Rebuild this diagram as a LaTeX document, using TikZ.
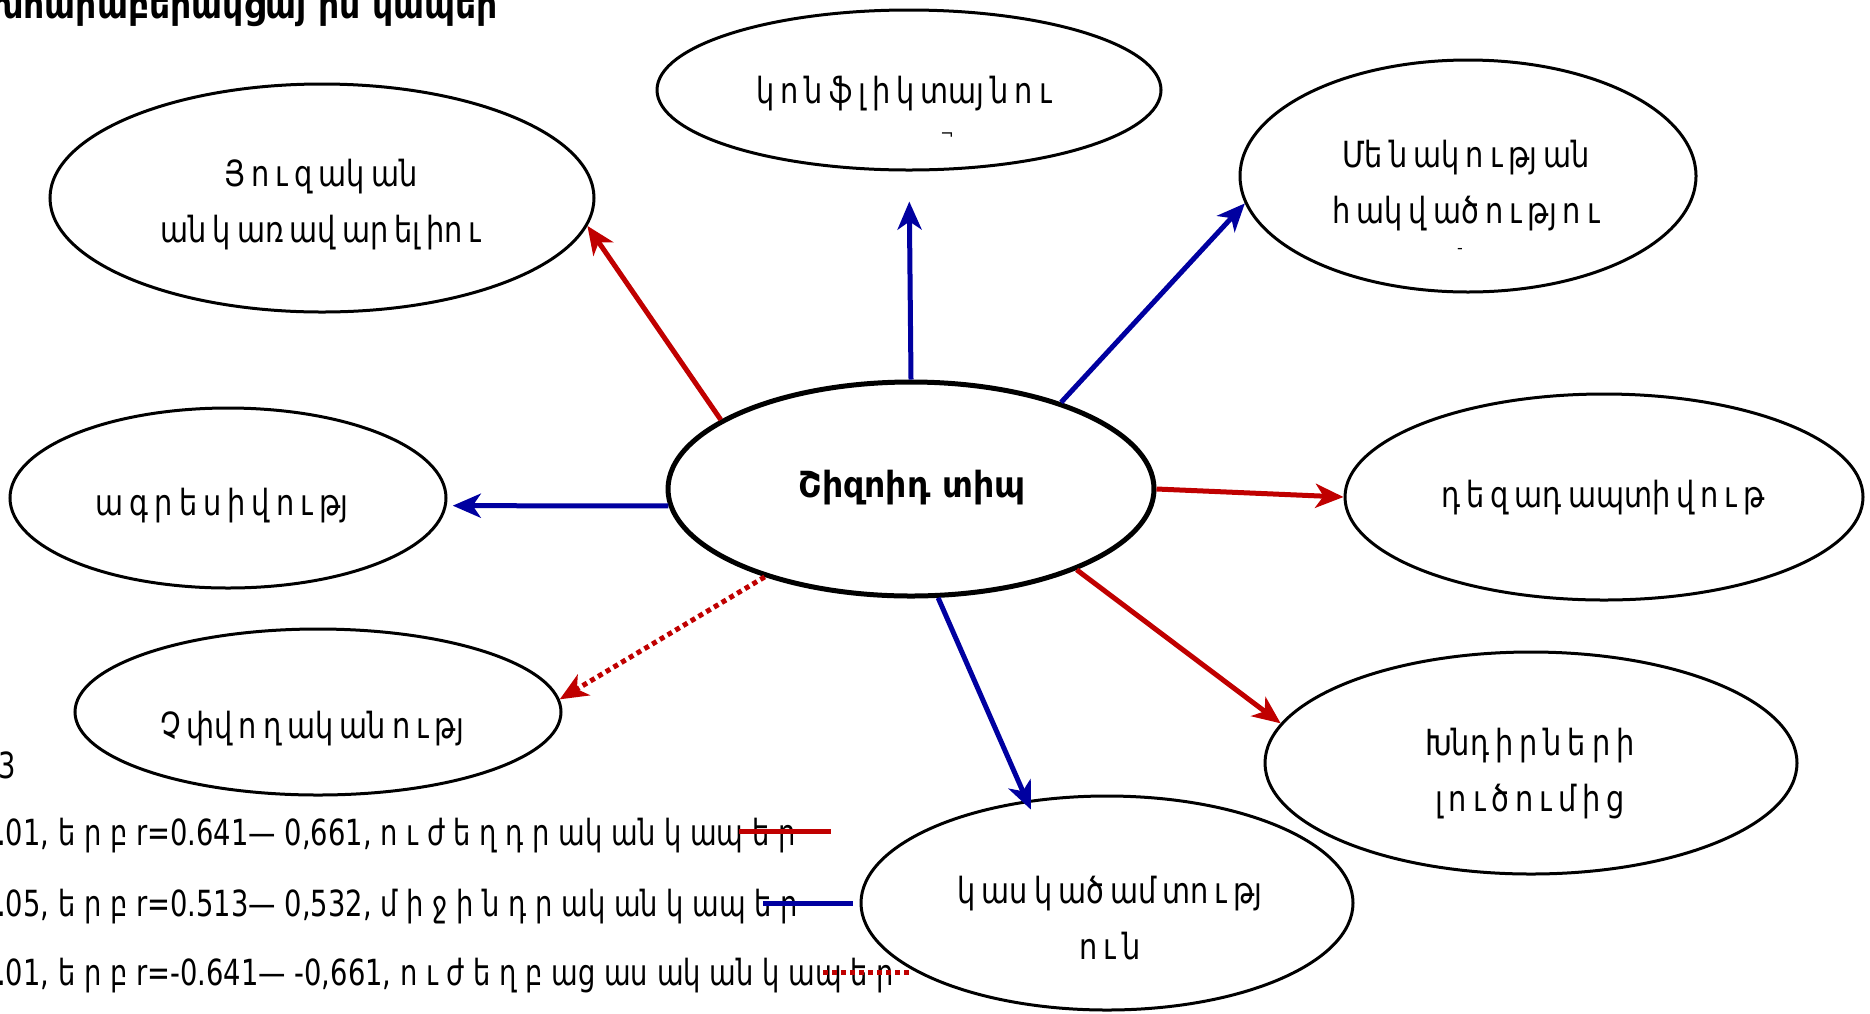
\documentclass[tikz,border=0pt]{standalone}
\usepackage{fontspec}
\setmainfont{DejaVu Sans}
\newfontfamily\armfont[FakeStretch=0.8]{DejaVu Sans}
\newfontfamily\corefont[FakeStretch=0.92]{DejaVu Sans}
\newfontfamily\headfont[FakeStretch=0.87]{DejaVu Sans}
\newfontfamily\legfont[FakeStretch=0.76]{DejaVu Sans}
\usetikzlibrary{shapes.geometric,arrows.meta}
\definecolor{linkred}{RGB}{192,0,0}
\definecolor{linkblue}{RGB}{0,0,160}
\newcommand\ovalfont{\armfont\fontsize{36}{56}\selectfont\spaceskip=6pt plus 1pt\relax}
\tikzset{
  oval/.style={ellipse, draw=black, line width=3pt, inner sep=0pt},
  core/.style={ellipse, draw=black, line width=5pt, inner sep=0pt},
  ovaltext/.style={inner sep=0pt, align=center, font=\ovalfont},
  coretext/.style={inner sep=0pt, font=\corefont\bfseries\fontsize{36}{40}\selectfont},
  legtext/.style={inner sep=0pt, font=\legfont\fontsize{36}{40}\selectfont},
  tinymark/.style={inner sep=0pt, font=\fontsize{16}{16}\selectfont},
  link/.style={line width=5pt, -{Stealth[length=28pt,width=24pt,inset=8pt]}},
  strong/.style={link, draw=linkred, color=linkred},
  middle/.style={link, draw=linkblue, color=linkblue},
  negative/.style={link, draw=linkred, color=linkred, dash pattern=on 5pt off 4pt},
}
\begin{document}
\begin{tikzpicture}[x=1pt,y=-1pt]
\useasboundingbox (0,0) rectangle (1870,1013);

% title line, running off the top and left edges
\node[inner sep=0pt, anchor=base east, font=\headfont\bfseries\fontsize{38}{40}\selectfont] (title) at (498,18) {փոխհարաբերակցայ ին կապեր};

% outlines
\node[core, minimum width=486pt, minimum height=214pt] (C) at (911,489) {};
\node[oval, minimum width=544pt, minimum height=228pt] (E1) at (322,198) {};
\node[oval, minimum width=504pt, minimum height=160pt] (E2) at (909,90) {};
\node[oval, minimum width=456pt, minimum height=232pt] (E3) at (1468,176) {};
\node[oval, minimum width=436pt, minimum height=180pt] (E4) at (228,498) {};
\node[oval, minimum width=518pt, minimum height=206pt] (E6) at (1604,497) {};
\node[oval, minimum width=486pt, minimum height=166pt] (E7) at (318,712) {};
\node[oval, minimum width=532pt, minimum height=222pt] (E8) at (1531,763) {};
\node[oval, minimum width=492pt, minimum height=214pt] (E9) at (1107,903) {};

% labels inside the outlines
\node[coretext] (Ct) at (912,488) {Շիզոիդ տիպ};
\node[ovaltext] (E1t) at (321,205) {Յ ո ւ զ ակ ան\\ան կ առ ավ ար ել իո ւ};
\node[ovaltext] (E2t) at (904,94) {կ ո ն ֆ լ ի կ տայ ն ո ւ};
\node[tinymark] (E2m) at (947,136) {¬};
\node[ovaltext] (E3t) at (1466,186) {Մե ն ակ ո ւ թյ ան\\հ ակ վ ած ո ւ թյ ո ւ};
\node[tinymark] (E3m) at (1460,251) {-};
\node[ovaltext] (E4t) at (222,506) {ա գ ր ե ս ի վ ո ւ թյ};
\node[ovaltext] (E6t) at (1603,498) {դ ե զ ադ ապտի վ ո ւ թ};
\node[ovaltext] (E7t) at (312,729) {Չ փվ ո ղ ակ ան ո ւ թյ};
\node[ovaltext] (E8t) at (1530,774) {Խնդ ի ր ն ե ր ի\\լ ո ւ ծ ո ւ մ ի ց};
\node[ovaltext] (E9t) at (1110,918) {կ աս կ ած ամ տո ւ թյ\\ո ւ ն};

% links from the central trait
\draw[strong] (C.160) -- (E1.-6);
\draw[middle, shorten >=30pt] (C.90) -- (E2.-90);
\draw[middle] (C.30) -- (E3.-173);
\draw[middle, shorten >=6pt] (C.184) -- (E4.-2);
\draw[strong] (C.0) -- (E6.180);
\draw[negative] (C.211) -- (E7.3);
\draw[strong] (C.-26) -- (E8.171);
\draw[middle, shorten >=-10pt] (C.-76) -- (E9.128);

% key
\node[legtext, anchor=base west] (fig) at (-2,778) {3};
\node[legtext, anchor=base west] (k1) at (-3,845) {.01, ե ր բ r=0.641— 0,661, ո ւ ժ ե ղ դ ր ակ ան կ ապ ե ր};
\node[legtext, anchor=base west] (k2) at (-3,916) {.05, ե ր բ r=0.513— 0,532, մ ի ջ ի ն դ ր ակ ան կ ապ ե ր};
\node[legtext, anchor=base west] (k3) at (-3,985) {.01, ե ր բ r=-0.641— -0,661, ո ւ ժ ե ղ բ աց աս ակ ան կ ապ ե ր};
\coordinate (k1a) at (739,831); \coordinate (k1b) at (831,831);
\coordinate (k2a) at (763,903); \coordinate (k2b) at (853,903);
\coordinate (k3a) at (823,972); \coordinate (k3b) at (912,972);
\draw[linkred, line width=5pt] (k1a) -- (k1b);
\draw[linkblue, line width=5pt] (k2a) -- (k2b);
\draw[linkred, line width=5pt, dash pattern=on 5pt off 4pt] (k3a) -- (k3b);
\end{tikzpicture}
\end{document}
